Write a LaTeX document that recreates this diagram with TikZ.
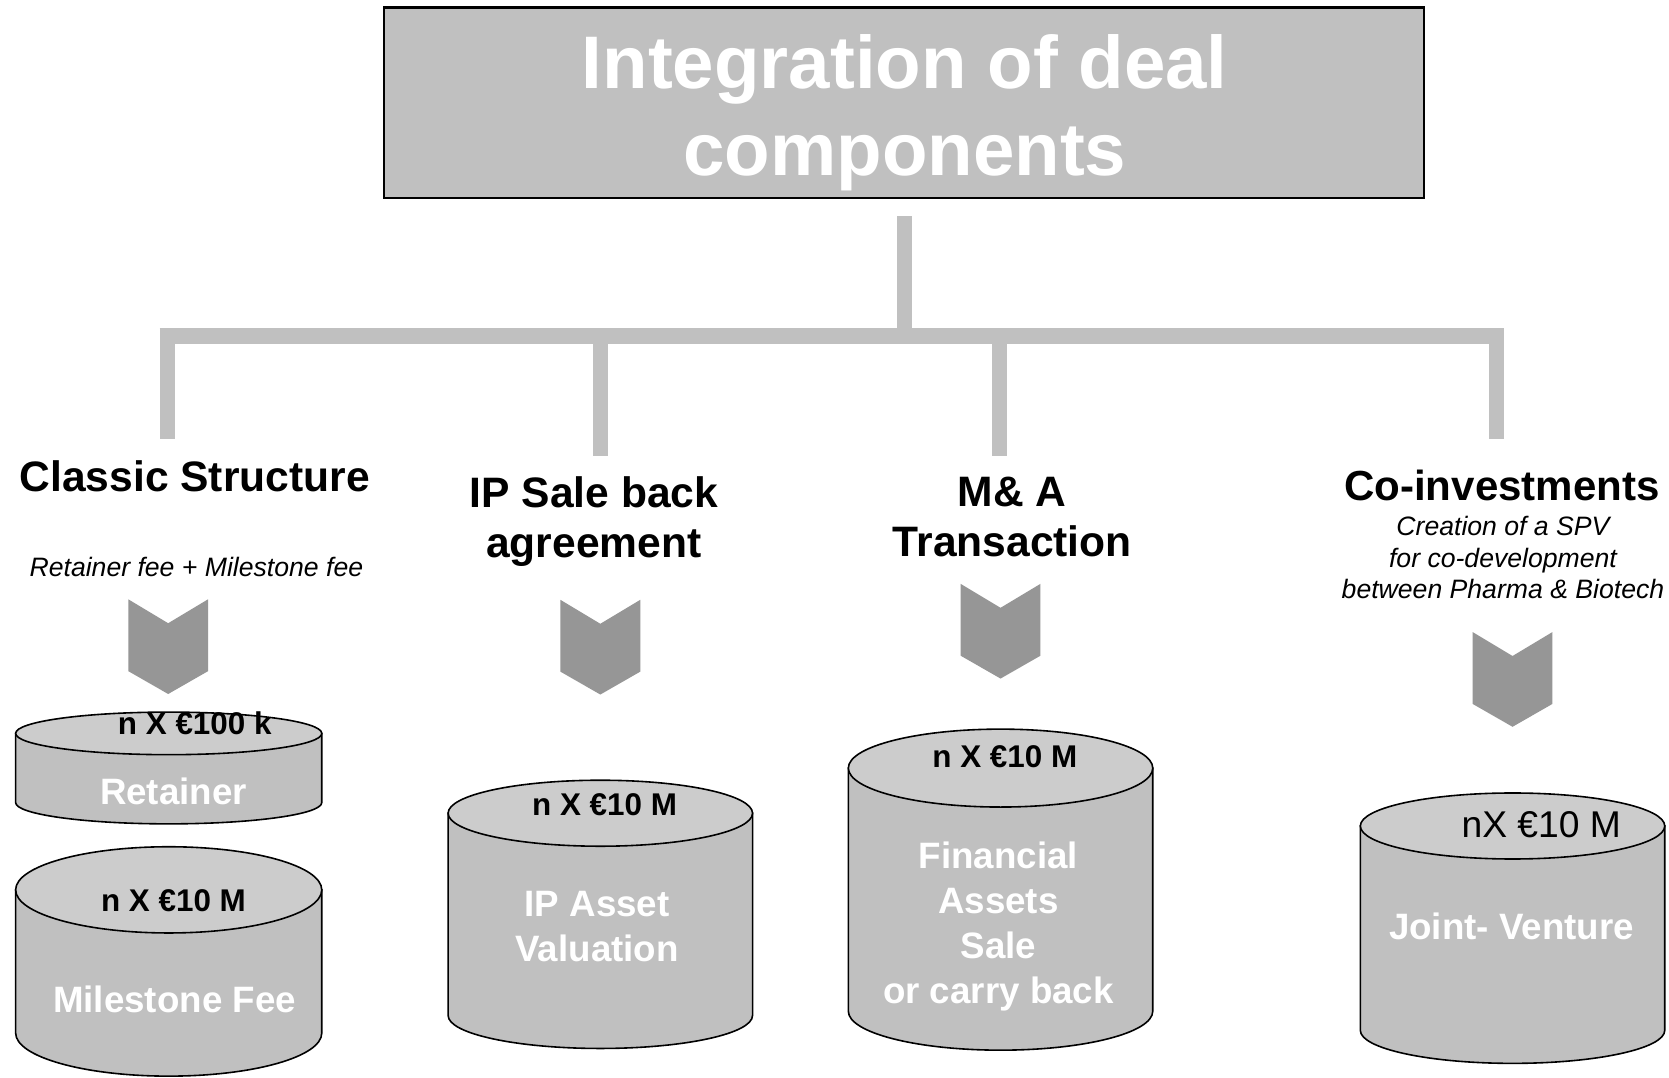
\documentclass[tikz,border=0pt]{standalone}
\usepackage{fontspec}
\setmainfont{Liberation Sans}
\definecolor{bargray}{HTML}{C0C0C0}
\definecolor{chevgray}{HTML}{969696}
\definecolor{topgray}{HTML}{CCCCCC}
\newcommand\ml[1]{\setbox\strutbox\hbox{\vrule height.7\baselineskip depth.3\baselineskip width0pt}\begin{tabular}[t]{@{}c@{}}#1\end{tabular}}
\newcommand\mycyl[5]{%
  \filldraw[cylbody] ({#1-#4},#2) -- ({#1-#4},#3) arc[start angle=180,end angle=360,x radius=#4pt,y radius=#5pt] -- ({#1+#4},#2) -- cycle;
  \filldraw[cyltop] (#1,#2) ellipse[x radius=#4pt,y radius=#5pt];
}
\tikzset{
  titlebox/.style={draw=black,line width=2pt,fill=bargray,minimum width=977pt,minimum height=179pt,inner sep=0pt},
  titletext/.style={font=\fontsize{70}{82}\selectfont\bfseries,text=white,anchor=base,inner sep=0pt},
  bar/.style={draw=bargray,line width=14pt},
  head/.style={font=\fontsize{40}{47}\selectfont\bfseries,anchor=base,inner sep=0pt},
  sub/.style={font=\fontsize{25}{29.5}\selectfont\itshape,anchor=base,inner sep=0pt},
  amt/.style={font=\fontsize{29.5}{34}\selectfont\bfseries,anchor=base,inner sep=0pt},
  lab/.style={font=\fontsize{34.5}{42.5}\selectfont\bfseries,text=white,anchor=base,inner sep=0pt},
  cylbody/.style={fill=bargray,draw=black,line width=1.5pt},
  cyltop/.style={fill=topgray,draw=black,line width=1.5pt},
  chev/.pic={\fill[chevgray] (-37.5,0) -- (0,22.5) -- (37.5,0) -- (37.5,67.5) -- (0,89) -- (-37.5,67.5) -- cycle;}
}
\begin{document}
\begin{tikzpicture}[x=1pt,y=-1pt]
\fill[white] (0,0) rectangle (1568,1012);
\useasboundingbox (0,0) rectangle (1568,1012);

% title
\node[titlebox] (title) at (849.5,96.5) {};
\node[titletext] (titletxt) at (850,83) {\ml{Integration of deal\\components}};

% connector bars
\coordinate (hubL) at (150,315.5);
\coordinate (hubR) at (1413,315.5);
\coordinate (d1) at (157.5,412);
\coordinate (d2) at (564,428);
\coordinate (d3) at (939,428);
\coordinate (d4) at (1405.5,412);
\draw[bar] ([yshift=-16pt]title.south) -- (title.south |- hubL);
\draw[bar,line width=15pt] (hubL) -- (hubR);
\foreach \d in {d1,d2,d3,d4} \draw[bar] (\d |- hubL) -- (\d);

% headings
\node[head] (hclassic) at (183,462) {Classic Structure};
\node[sub] (sclassic) at (184.5,542) {Retainer fee + Milestone fee};
\node[head] (hip) at (558,477) {\ml{IP Sale back\\agreement}};
\node[head] (hma) at (951,475.5) {\ml{M\& A\\Transaction}};
\node[head,font=\fontsize{39.5}{45}\selectfont\bfseries] (hco) at (1411,470) {Co-investments};
\node[sub] (sco) at (1412,503.5) {\ml{Creation of a SPV\\for co-development\\between Pharma \& Biotech}};

% chevrons
\pic (chevA) at (158,563) {chev};
\pic (chevB) at (564,563.5) {chev};
\pic (chevC) at (940,548.5) {chev};
\pic (chevD) at (1421,593.8) {chev};

% cylinders
\mycyl{158.5}{689}{754}{143.8}{20}
\mycyl{158.5}{836}{970.5}{143.8}{40.5}
\mycyl{564}{764}{954}{143}{31}
\mycyl{940}{721.6}{950}{143}{36.6}
\mycyl{1421}{776}{968}{143}{31}

% cylinder texts
\node[amt] (aret) at (183,690.5) {n X €100 k};
\node[lab] (lret) at (163,755.5) {Retainer};
\node[amt] (amil) at (163,856.5) {n X €10 M};
\node[lab] (lmil) at (164,951.5) {Milestone Fee};
\node[amt] (aip) at (568,766.5) {n X €10 M};
\node[lab] (lip) at (561,861) {\ml{IP Asset\\Valuation}};
\node[amt] (ama) at (944,721.5) {n X €10 M};
\node[lab] (lma) at (938,815.5) {\ml{Financial\\Assets\\Sale\\or carry back}};
\node[anchor=base,inner sep=0pt,font=\fontsize{35}{42}\selectfont] (ajv) at (1448,787) {nX €10 M};
\node[lab] (ljv) at (1420,883) {Joint- Venture};
\end{tikzpicture}
\end{document}
